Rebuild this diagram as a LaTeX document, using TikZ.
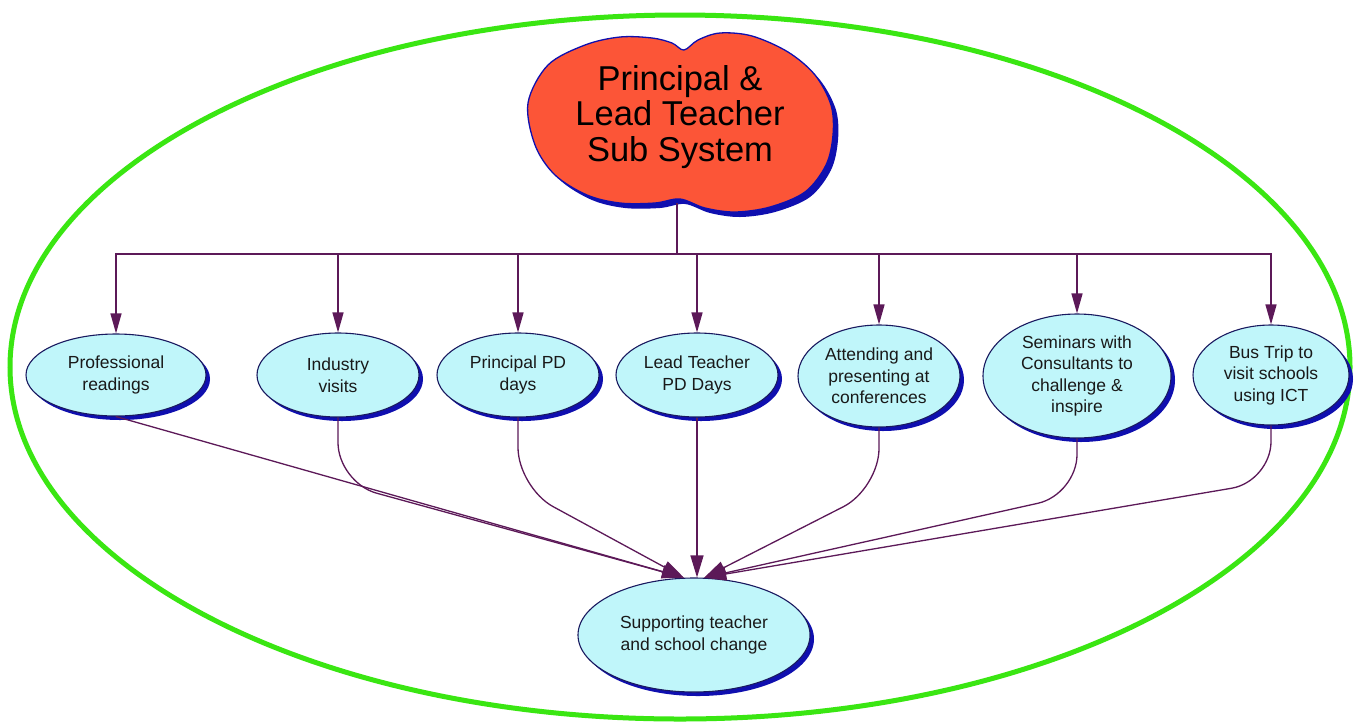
\documentclass[tikz,border=0pt]{standalone}
\usepackage{fontspec}
\setmainfont{Liberation Sans}
\usetikzlibrary{shapes.geometric,shadows,arrows.meta,calc}
\definecolor{ringgreen}{RGB}{58,230,18}
\definecolor{linepurple}{RGB}{92,25,88}
\definecolor{ovfill}{RGB}{192,246,250}
\definecolor{ovline}{RGB}{25,25,95}
\definecolor{shblue}{RGB}{15,15,175}
\definecolor{cloudred}{RGB}{252,85,55}
\definecolor{txt}{RGB}{25,25,25}
\begin{document}
\begin{tikzpicture}[x=1pt,y=-1pt,
  topic/.style={ellipse, draw=ovline, line width=1.1pt, fill=ovfill, inner sep=0pt,
    align=center, text=txt, font=\fontsize{17.5}{21.5}\selectfont,
    drop shadow={shadow xshift=4pt, shadow yshift=-4pt, fill=shblue, opacity=1}},
  feed/.style={draw=linepurple, line width=1.3pt, -{Triangle[length=20pt,width=11pt]}},
  conv/.style={draw=linepurple, line width=1.3pt, rounded corners=40pt, -{Triangle[length=22pt,width=13pt]}}
]
\useasboundingbox (0,0) rectangle (1359,724);
\fill[white] (0,0) rectangle (1359,724);
% outer ring
\draw[ringgreen, line width=5pt] (680,367) ellipse [x radius=670pt, y radius=352pt];
% cloud shadow
\begin{scope}[shift={(5,5)}]
\fill[shblue] plot[smooth cycle, tension=0.55] coordinates {(528,103) (548,65) (585,45) (620,37) (652,38) (672,43) (684,50) (698,40) (720,33) (752,36) (788,52) (815,75) (831,105) (833,135) (826,165) (805,192) (770,207) (735,212) (705,208) (680,199) (655,203) (620,203) (587,195) (555,175) (535,145)};
\end{scope}
% cloud
\filldraw[fill=cloudred, draw=shblue, line width=1.3pt] plot[smooth cycle, tension=0.55] coordinates {(528,103) (548,65) (585,45) (620,37) (652,38) (672,43) (684,50) (698,40) (720,33) (752,36) (788,52) (815,75) (831,105) (833,135) (826,165) (805,192) (770,207) (735,212) (705,208) (680,199) (655,203) (620,203) (587,195) (555,175) (535,145)};
\node[font=\fontsize{34.5}{35.5}\selectfont, align=center, text=black, inner sep=0pt] (title) at (680,117) {Principal \&\\Lead Teacher\\Sub System};
\coordinate (cloudbot) at (677,203);
\coordinate (bus) at (677,254);
% topic nodes
\node[topic, minimum width=180pt, minimum height=82pt] (e1) at (116,375) {Professional\\readings};
\node[topic, minimum width=162pt, minimum height=84pt] (e2) at (338,375) {Industry\\visits};
\node[topic, minimum width=162pt, minimum height=84pt] (e3) at (518,375) {Principal PD\\days};
\node[topic, minimum width=162pt, minimum height=84pt] (e4) at (697,375) {Lead Teacher\\PD Days};
\node[topic, minimum width=162pt, minimum height=102pt] (e5) at (879,376) {Attending and\\presenting at\\conferences};
\node[topic, minimum width=188pt, minimum height=124pt] (e6) at (1077,376) {Seminars with\\Consultants to\\challenge \&\\inspire};
\node[topic, minimum width=156pt, minimum height=100pt] (e7) at (1271,375) {Bus Trip to\\visit schools\\using ICT};
\node[topic, minimum width=232pt, minimum height=114pt] (bot) at (694,635) {Supporting teacher\\and school change};
% top connectors
\foreach \t in {e1,e2,e3,e4,e5,e6,e7}{
  \draw[feed] (cloudbot) -- (bus) -| (\t.north);
}
% converging connectors
\draw[conv] (e1.south) -- (bot.100);
\draw[conv] (e2.south) -- ++(0,65) -- (bot.100);
\draw[conv] (e3.south) -- ++(0,70) -- (bot.100);
\draw[conv] (e4.south) -- (e4.south |- bot.north);
\draw[conv] (e5.south) -- ++(0,61) -- (bot.80);
\draw[conv] (e6.south) -- ++(0,56) -- (bot.80);
\draw[conv] (e7.south) -- ++(0,56) -- (bot.80);
\end{tikzpicture}
\end{document}
